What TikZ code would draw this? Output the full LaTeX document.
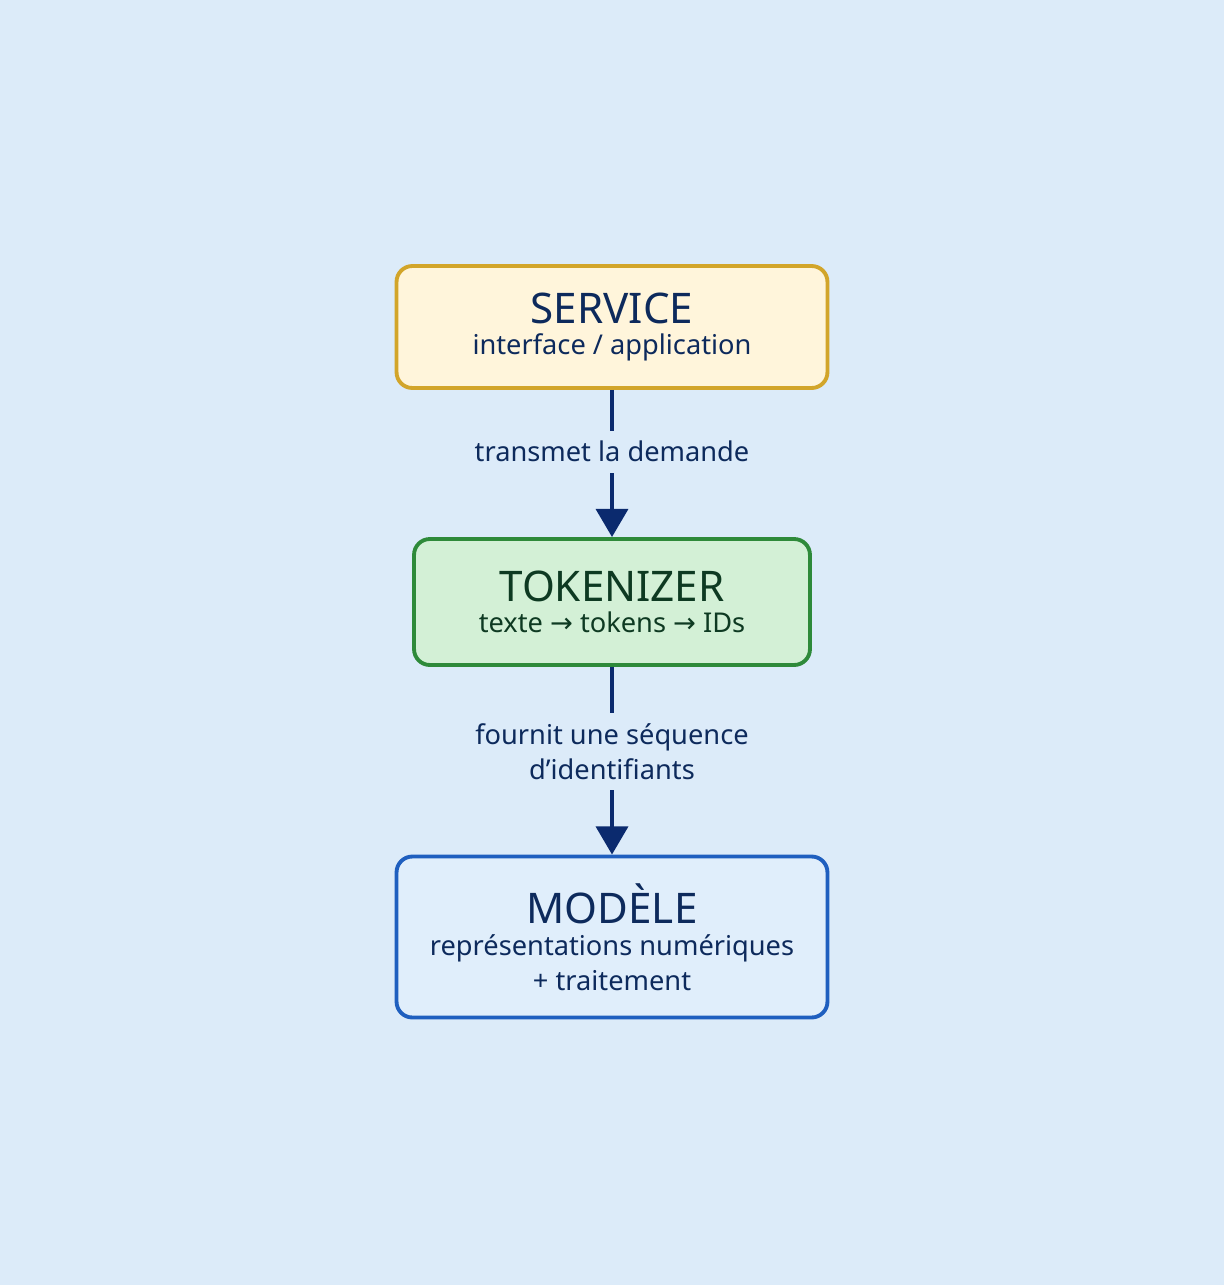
\documentclass[tikz,border=0pt]{standalone}
\usepackage{fontspec}
\setmainfont{Noto Sans}
\newfontfamily\symfont{DejaVu Sans}
\usepackage{tikz}
\usetikzlibrary{arrows.meta, positioning}
\usepackage{xcolor}
\definecolor{bgblue}{HTML}{DCEBF9}
\definecolor{navy}{HTML}{0D2A5C}
\definecolor{arrownavy}{HTML}{0B2A6E}
\definecolor{servfill}{HTML}{FFF5DB}
\definecolor{servdraw}{HTML}{D2A52A}
\definecolor{tokfill}{HTML}{D3F0D6}
\definecolor{tokdraw}{HTML}{2E8A3A}
\definecolor{toktext}{HTML}{0E3A22}
\definecolor{modfill}{HTML}{E0EEFB}
\definecolor{moddraw}{HTML}{1F5FBF}
\newcommand{\stagetitle}{\fontsize{24}{28}\selectfont\bfseries}

\begin{document}
\begin{tikzpicture}[
    x=0.02cm, y=-0.02cm,
    stage/.style={rectangle, rounded corners=9pt, line width=2.2pt, align=center, text=navy},
    arrow/.style={-{Triangle[length=16pt, width=18pt]}, line width=2.6pt, draw=arrownavy},
    label/.style={fill=bgblue, text=navy, align=center, inner sep=6pt},
    every node/.append style={font=\fontsize{15.5}{20}\selectfont}
]
    % Background
    \fill[bgblue] (0,0) rectangle (1224,1285);
    \useasboundingbox (0,0) rectangle (1224,1285);

    % Stages
    \node[stage, fill=servfill, draw=servdraw, minimum width=8.62cm, minimum height=2.44cm] (service) at (612,327)
        {{\stagetitle SERVICE}\\[-2pt]interface / application};
    \node[stage, fill=tokfill, draw=tokdraw, text=toktext, minimum width=7.92cm, minimum height=2.52cm] (tokenizer) at (612,602)
        {{\stagetitle TOKENIZER}\\[-2pt]texte {\symfont→} tokens {\symfont→} IDs};
    \node[stage, fill=modfill, draw=moddraw, minimum width=8.62cm, minimum height=3.22cm] (modele) at (612,937)
        {{\stagetitle MODÈLE}\\[-2pt]représentations numériques\\+ traitement};

    % Flow
    \draw[arrow] (service) -- node[label, pos=0.42] {transmet la demande} (tokenizer);
    \draw[arrow] (tokenizer) -- node[label, pos=0.45] {fournit une séquence\\d’identifiants} (modele);
\end{tikzpicture}
\end{document}
